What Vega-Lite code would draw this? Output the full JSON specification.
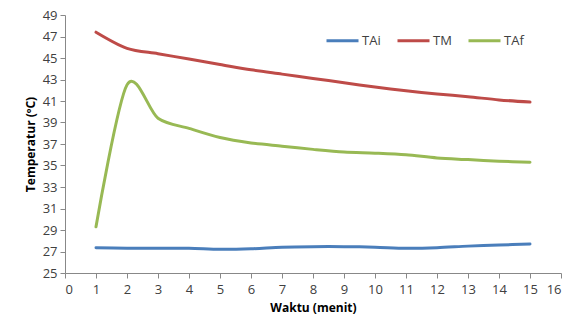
{
  "$schema": "https://vega.github.io/schema/vega-lite/v6.json",
  "width": 496,
  "height": 258,
  "autosize": {"type": "none"},
  "padding": {"left": 65, "top": 15, "right": 13, "bottom": 49},
  "background": "white",
  "config": {
    "view": {"stroke": null},
    "font": "Open Sans"
  },
  "data": {
    "values": [
      {"t": 1, "s": "TAi", "v": 27.35}, {"t": 2, "s": "TAi", "v": 27.3}, {"t": 3, "s": "TAi", "v": 27.3},
      {"t": 4, "s": "TAi", "v": 27.3}, {"t": 5, "s": "TAi", "v": 27.2}, {"t": 6, "s": "TAi", "v": 27.25},
      {"t": 7, "s": "TAi", "v": 27.4}, {"t": 8, "s": "TAi", "v": 27.45}, {"t": 9, "s": "TAi", "v": 27.45},
      {"t": 10, "s": "TAi", "v": 27.4}, {"t": 11, "s": "TAi", "v": 27.3}, {"t": 12, "s": "TAi", "v": 27.35},
      {"t": 13, "s": "TAi", "v": 27.5}, {"t": 14, "s": "TAi", "v": 27.6}, {"t": 15, "s": "TAi", "v": 27.7},
      {"t": 1, "s": "TM", "v": 47.4}, {"t": 2, "s": "TM", "v": 45.9}, {"t": 3, "s": "TM", "v": 45.4},
      {"t": 4, "s": "TM", "v": 44.9}, {"t": 5, "s": "TM", "v": 44.4}, {"t": 6, "s": "TM", "v": 43.9},
      {"t": 7, "s": "TM", "v": 43.5}, {"t": 8, "s": "TM", "v": 43.1}, {"t": 9, "s": "TM", "v": 42.7},
      {"t": 10, "s": "TM", "v": 42.3}, {"t": 11, "s": "TM", "v": 41.95}, {"t": 12, "s": "TM", "v": 41.65},
      {"t": 13, "s": "TM", "v": 41.4}, {"t": 14, "s": "TM", "v": 41.1}, {"t": 15, "s": "TM", "v": 40.9},
      {"t": 1, "s": "TAf", "v": 29.3}, {"t": 2, "s": "TAf", "v": 42.5}, {"t": 3, "s": "TAf", "v": 39.4},
      {"t": 4, "s": "TAf", "v": 38.45}, {"t": 5, "s": "TAf", "v": 37.6}, {"t": 6, "s": "TAf", "v": 37.1},
      {"t": 7, "s": "TAf", "v": 36.8}, {"t": 8, "s": "TAf", "v": 36.5}, {"t": 9, "s": "TAf", "v": 36.25},
      {"t": 10, "s": "TAf", "v": 36.15}, {"t": 11, "s": "TAf", "v": 36.0}, {"t": 12, "s": "TAf", "v": 35.7},
      {"t": 13, "s": "TAf", "v": 35.55}, {"t": 14, "s": "TAf", "v": 35.4}, {"t": 15, "s": "TAf", "v": 35.3}
    ]
  },
  "mark": {"type": "line", "interpolate": "cardinal", "tension": 0.1, "strokeWidth": 3, "strokeCap": "round"},
  "encoding": {
    "x": {
      "field": "t", "type": "quantitative",
      "scale": {"domain": [0, 16], "nice": false, "zero": false},
      "axis": {
        "title": "Waktu (menit)", "titleFontWeight": "bold", "titleFontSize": 12, "titleColor": "#000000",
        "titlePadding": 6,
        "values": [0,1,2,3,4,5,6,7,8,9,10,11,12,13,14,15,16],
        "labelFontSize": 13, "labelColor": "#404040", "labelPadding": 5,
        "domainColor": "#888888", "tickColor": "#888888", "tickSize": 5, "grid": false
      }
    },
    "y": {
      "field": "v", "type": "quantitative",
      "scale": {"domain": [25, 49], "nice": false, "zero": false},
      "axis": {
        "title": "Temperatur (ºC)", "titleFontWeight": "bold", "titleFontSize": 12, "titleColor": "#000000",
        "titlePadding": 5,
        "values": [25,27,29,31,33,35,37,39,41,43,45,47,49],
        "labelFontSize": 13, "labelColor": "#404040", "labelPadding": 3,
        "domainColor": "#888888", "tickColor": "#888888", "tickSize": 5, "grid": false
      }
    },
    "color": {
      "field": "s", "type": "nominal",
      "scale": {"domain": ["TAi", "TM", "TAf"], "range": ["#4A7EBB", "#BE4B48", "#98B954"]},
      "legend": {
        "title": null, "orient": "none", "direction": "horizontal",
        "legendX": 260, "legendY": 8,
        "symbolType": "stroke", "symbolSize": 1024, "symbolStrokeWidth": 3,
        "labelFontSize": 13, "labelColor": "#404040", "labelOffset": 2, "columnPadding": 10
      }
    }
  }
}
